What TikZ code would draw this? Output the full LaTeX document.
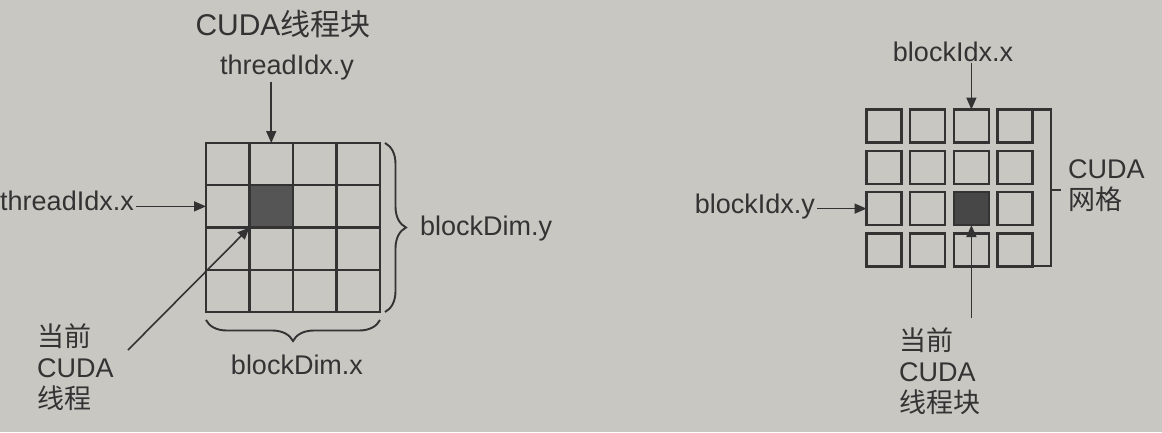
\documentclass[tikz,border=0pt]{standalone}
\usepackage{fontspec}
\setmainfont{Liberation Sans}
\newfontfamily\cjk{Noto Sans CJK SC}
\usetikzlibrary{arrows.meta,decorations.pathreplacing}
\definecolor{bg}{HTML}{C9C7C2}
\definecolor{ink}{HTML}{333333}
\definecolor{darkc}{HTML}{555555}
\definecolor{darkb}{HTML}{474747}
\tikzset{
  cell/.style={draw=ink,line width=2.2pt,minimum width=43.5pt,minimum height=42.25pt,inner sep=0pt,outer sep=0pt},
  box/.style={draw=ink,line width=2.3pt,minimum width=35pt,minimum height=33pt,inner sep=0pt,outer sep=0pt},
  lbl/.style={text=ink,inner sep=2pt,font=\fontsize{27}{31}\selectfont},
  mlbl/.style={text=ink,inner sep=0pt,align=left,font=\fontsize{27}{31}\selectfont},
  ttl/.style={text=ink,inner sep=2pt,font=\fontsize{30}{34}\selectfont},
  arr/.style={draw=ink,line width=1.6pt,-{Triangle[length=12pt,width=10pt]}},
  brc/.style={draw=ink,line width=1.9pt,decorate,decoration={brace,amplitude=21pt}},
  frame/.style={draw=ink,line width=2.1pt}
}
\begin{document}
\begin{tikzpicture}[x=1pt,y=-1pt]
\fill[bg] (0,0) rectangle (1162,432);
\useasboundingbox (0,0) rectangle (1162,432);
% left grid (CUDA thread block)
\foreach \i in {0,...,3}{\foreach \j in {0,...,3}{%
  \ifnum\i\j=11
    \node[cell,fill=darkc] (c\i\j) at ({206+43.5*(\i+0.5)},{143+42.25*(\j+0.5)}) {};
  \else
    \node[cell] (c\i\j) at ({206+43.5*(\i+0.5)},{143+42.25*(\j+0.5)}) {};
  \fi}}
\node[ttl,anchor=base] (title) at (283,35) {CUDA{\cjk 线程块}};
\node[lbl,anchor=base] (ty) at (287,74) {threadIdx.y};
\node[lbl,anchor=base east] (tx) at (136,210) {threadIdx.x};
\node[lbl,anchor=base west] (bdy) at (418,235) {blockDim.y};
\node[lbl,anchor=base] (bdx) at (297,374) {blockDim.x};
\node[mlbl,anchor=north west] (curt) at (37,323) {{\cjk 当前}\\CUDA\\{\cjk 线程}};
\draw[arr] (ty.south -| c10.north) -- (c10.north);
\draw[arr] (tx.east |- c01.west) -- (c01.west);
\coordinate (dstart) at (128,350);
\draw[arr] (dstart) -- (c11.south west);
\draw[brc] ([xshift=5pt]c30.north east) -- ([xshift=5pt]c33.south east);
\draw[brc] ([yshift=-8pt]c33.south east) -- ([yshift=-8pt]c03.south west);
% right grid (CUDA grid)
\foreach \i in {0,...,3}{\foreach \j in {0,...,3}{%
  \ifnum\i\j=22
    \node[box,fill=darkb] (b\i\j) at ({884+43.7*\i},{126+41.3*\j}) {};
  \else
    \node[box] (b\i\j) at ({884+43.7*\i},{126+41.3*\j}) {};
  \fi}}
\node[lbl,anchor=base] (bix) at (953,61) {blockIdx.x};
\node[lbl,anchor=base east] (biy) at (817,213) {blockIdx.y};
\node[mlbl,anchor=north west] (grid) at (1068,159) {CUDA\\{\cjk 网格}};
\node[mlbl,anchor=north west] (curb) at (899,327) {{\cjk 当前}\\CUDA\\{\cjk 线程块}};
\draw[arr] (bix.south -| b20.north) -- (b20.north);
\draw[arr] (biy.east |- b02.west) -- (b02.west);
\coordinate (bstart) at (970,318);
\draw[arr] (bstart -| b22.south) -- (b22.south);
\draw[frame] (b30.north east) -| ([xshift=18pt]b33.south east) -- ([xshift=-4pt]b33.south east);
\coordinate (tick) at (1052,190);
\draw[frame] (tick) -- ++(9,0);
\end{tikzpicture}
\end{document}
